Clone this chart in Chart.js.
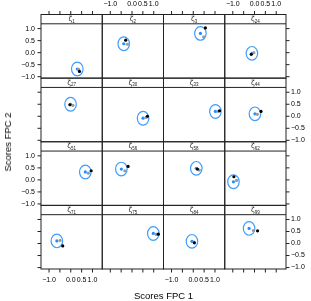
<!DOCTYPE html>
<html>
<head>
<meta charset="utf-8">
<script src="https://cdn.jsdelivr.net/npm/chart.js@4.4.1/dist/chart.umd.min.js"></script>
<style>
  body { margin: 0; background: #fff; width: 311px; height: 301px; position: relative; overflow: hidden;
         font-family: "Liberation Sans", Arial, sans-serif; }
  canvas { position: absolute; left: 0; top: 0; }
  .ttl { position: absolute; font-size: 9.5px; line-height: 10px; color: #000; white-space: nowrap; }
  #xt { left: 163.5px; top: 295.5px; transform: translate(-50%, -50%); }
  #yt { left: 8px; top: 141.7px; transform: translate(-50%, -50%) rotate(-90deg); }
</style>
</head>
<body>
<div id="wrap"></div>
<div class="ttl" id="xt">Scores FPC 1</div>
<div class="ttl" id="yt">Scores FPC 2</div>
<script>
// panels, left to right, top to bottom
const panelIds = [1, 2, 3, 24, 27, 30, 33, 44, 51, 56, 58, 62, 71, 75, 84, 99];

// predicted scores (blue, centre of the ellipse)
const predX = [0.30, -0.38, 0.33, -0.12, -0.01, 0.51, 1.02, 0.02, 0.67, -0.49, 0.14, -0.97, -0.64, 0.98, -0.06, -0.25];
const predY = [-0.68, 0.37, 0.80, -0.03, 0.50, -0.08, 0.20, 0.10, 0.33, 0.45, 0.48, -0.08, 0.11, 0.42, 0.09, 0.63];
// second estimate (grey)
const altX = [0.36, -0.21, 0.48, -0.03, 0.10, 0.65, 1.15, 0.13, 0.81, -0.33, 0.28, -0.83, -0.49, 1.12, 0.04, -0.05];
const altY = [-0.70, 0.35, 0.66, 0.00, 0.45, -0.05, 0.20, 0.08, 0.28, 0.38, 0.41, -0.02, 0.13, 0.38, 0.06, 0.54];
// true scores (black)
const trueX = [0.40, -0.29, 0.56, -0.15, -0.04, 0.71, 1.21, 0.30, 0.94, -0.18, 0.19, -0.95, -0.37, 1.21, 0.05, 0.14];
const trueY = [-0.78, 0.52, 1.03, -0.07, 0.48, 0.00, 0.23, 0.20, 0.38, 0.56, 0.45, 0.13, -0.10, 0.39, 0.03, 0.53];
// ellipse half widths
const ellRx = [0.265, 0.265, 0.265, 0.265, 0.265, 0.265, 0.265, 0.265, 0.265, 0.265, 0.265, 0.265, 0.265, 0.265, 0.265, 0.265];
const ellRy = [0.285, 0.285, 0.285, 0.285, 0.285, 0.285, 0.285, 0.285, 0.285, 0.285, 0.285, 0.285, 0.285, 0.285, 0.285, 0.285];

const xTicks = [-1, -0.5, 0, 0.5, 1];
const xTickLabels = ['\u22121.0', '', '0.0', '0.5', '1.0'];
const yTicks = [-1, -0.5, 0, 0.5, 1];
const yTickLabels = ['\u22121.0', '\u22120.5', '0.0', '0.5', '1.0'];

// layout
const W = 311, H = 301;
const colEdges = [41, 102.25, 163.5, 224.75, 286];
const gridTop = 14.5, rowH = 63.625, stripH = 9.3;
const tickLen = 3.5;
const tickFont = '7px "Liberation Sans", Arial, sans-serif';

const lattice = {
  id: 'lattice',
  beforeDatasetsDraw(chart, args, opts) {
    const { ctx, scales: { x, y } } = chart;
    const i = opts.idx;
    const cx = x.getPixelForValue(predX[i]);
    const cy = y.getPixelForValue(predY[i]);
    const rx = Math.abs(x.getPixelForValue(predX[i] + ellRx[i]) - cx);
    const ry = Math.abs(y.getPixelForValue(predY[i] + ellRy[i]) - cy);
    ctx.save();
    ctx.strokeStyle = '#3f9bff';
    ctx.lineWidth = 1.2;
    ctx.beginPath();
    ctx.ellipse(cx, cy, rx, ry, 0, 0, Math.PI * 2);
    ctx.stroke();
    ctx.restore();
  },
  afterDraw(chart, args, opts) {
    const { ctx, chartArea: a, scales: { x, y } } = chart;
    const { idx, row, col } = opts;
    const sTop = a.top - stripH;
    ctx.save();
    ctx.strokeStyle = '#222';
    ctx.lineWidth = 1;
    ctx.strokeRect(a.left, sTop, a.right - a.left, a.bottom - sTop);
    ctx.beginPath();
    ctx.moveTo(a.left, a.top); ctx.lineTo(a.right, a.top);
    ctx.stroke();

    // strip label
    const mid = (a.left + a.right) / 2;
    const sub = String(panelIds[idx]);
    ctx.fillStyle = '#222';
    ctx.font = '7px "DejaVu Sans", sans-serif';
    const zw = ctx.measureText('\u03b6').width;
    ctx.font = '4.5px "Liberation Sans", Arial, sans-serif';
    const sw = ctx.measureText(sub).width;
    const x0 = mid - (zw + sw) / 2;
    ctx.textBaseline = 'alphabetic';
    ctx.textAlign = 'left';
    ctx.font = '7px "DejaVu Sans", sans-serif';
    ctx.fillText('\u03b6', x0, sTop + 6.5);
    ctx.font = '4.5px "Liberation Sans", Arial, sans-serif';
    ctx.fillText(sub, x0 + zw, sTop + 8.3);

    // axes on the outer sides
    ctx.font = tickFont;
    ctx.fillStyle = '#000';
    ctx.beginPath();
    xTicks.forEach((v, k) => {
      const px = x.getPixelForValue(v);
      if (row === 0) {
        ctx.moveTo(px, sTop); ctx.lineTo(px, sTop - tickLen);
        if (col % 2 === 1) {
          ctx.textAlign = 'center'; ctx.textBaseline = 'middle';
          ctx.fillText(xTickLabels[k], px, sTop - tickLen - 6.5);
        }
      }
      if (row === 3) {
        ctx.moveTo(px, a.bottom); ctx.lineTo(px, a.bottom + tickLen);
        if (col % 2 === 0) {
          ctx.textAlign = 'center'; ctx.textBaseline = 'middle';
          ctx.fillText(xTickLabels[k], px, a.bottom + tickLen + 8);
        }
      }
    });
    yTicks.forEach((v, k) => {
      const py = y.getPixelForValue(v);
      if (col === 0) {
        ctx.moveTo(a.left, py); ctx.lineTo(a.left - tickLen, py);
        if (row % 2 === 0) {
          ctx.textAlign = 'right'; ctx.textBaseline = 'middle';
          ctx.fillText(yTickLabels[k], a.left - tickLen - 2.5, py);
        }
      }
      if (col === 3) {
        ctx.moveTo(a.right, py); ctx.lineTo(a.right + tickLen, py);
        if (row % 2 === 1) {
          ctx.textAlign = 'left'; ctx.textBaseline = 'middle';
          ctx.fillText(yTickLabels[k], a.right + tickLen + 1.5, py);
        }
      }
    });
    ctx.stroke();
    ctx.restore();
  }
};

const wrap = document.getElementById('wrap');

panelIds.forEach((id, i) => {
  const row = Math.floor(i / 4), col = i % 4;
  const top = gridTop + row * rowH + stripH;
  const bottom = gridTop + (row + 1) * rowH;
  const cv = document.createElement('canvas');
  cv.width = W; cv.height = H;
  wrap.appendChild(cv);

  new Chart(cv, {
    type: 'scatter',
    data: {
      datasets: [
        { data: [{ x: trueX[i], y: trueY[i] }], backgroundColor: '#000', borderWidth: 0, pointRadius: 1.6, order: 0 },
        { data: [{ x: altX[i], y: altY[i] }], backgroundColor: '#9a9a9a', borderWidth: 0, pointRadius: 1.6, order: 1 },
        { data: [{ x: predX[i], y: predY[i] }], backgroundColor: '#1e8fff', borderWidth: 0, pointRadius: 1.6, order: 2 }
      ]
    },
    options: {
      responsive: false,
      animation: false,
      devicePixelRatio: 1,
      events: [],
      layout: {
        padding: { left: colEdges[col], right: W - colEdges[col + 1], top: top, bottom: H - bottom }
      },
      scales: {
        x: { type: 'linear', min: -1.37, max: 1.45, display: false },
        y: { type: 'linear', min: -1.06, max: 1.2, display: false }
      },
      plugins: {
        legend: { display: false },
        tooltip: { enabled: false },
        lattice: { idx: i, row: row, col: col }
      }
    },
    plugins: [lattice]
  });
});
</script>
</body>
</html>
